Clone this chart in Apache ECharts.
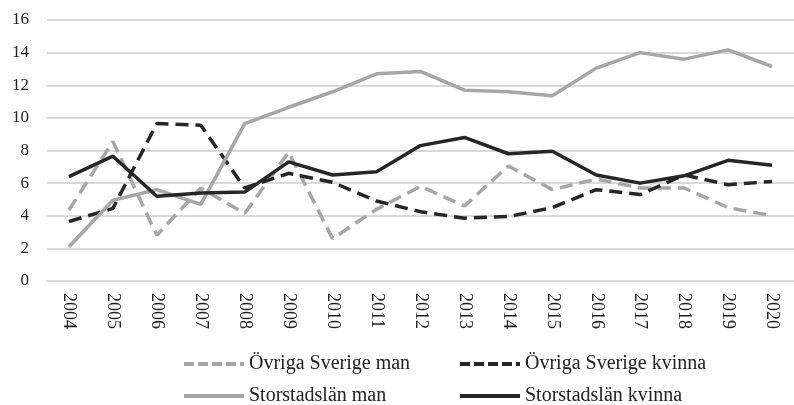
<!DOCTYPE html>
<html>
<head>
<meta charset="utf-8">
<script src="https://cdn.jsdelivr.net/npm/echarts@6/dist/echarts.min.js"></script>
<style>
  html, body { margin: 0; padding: 0; background: #fff; }
  #chart { width: 794px; height: 405px; }
</style>
</head>
<body>
<div id="chart"></div>
<script>
// years on the x axis
const years = ['2004','2005','2006','2007','2008','2009','2010','2011','2012',
  '2013','2014','2015','2016','2017','2018','2019','2020']

// values
const ovrigaMan = [4.35, 8.55, 2.8, 5.7, 4.15, 7.9, 2.6, 4.4, 5.8, 4.6, 7.05, 5.6, 6.25, 5.7, 5.7, 4.5, 4.0]
const ovrigaKvinna = [3.65, 4.45, 9.65, 9.55, 5.7, 6.6, 6.05, 4.9, 4.25, 3.85, 3.95, 4.5, 5.6, 5.3, 6.5, 5.9, 6.1]
const storstadMan = [2.1, 4.95, 5.6, 4.7, 9.65, 10.65, 11.6, 12.7, 12.85, 11.7, 11.6, 11.35, 13.05, 14.0, 13.6, 14.17, 13.15]
const storstadKvinna = [6.4, 7.65, 5.2, 5.4, 5.45, 7.3, 6.5, 6.7, 8.3, 8.8, 7.8, 7.95, 6.5, 6.0, 6.45, 7.4, 7.1]

const grey = '#a6a6a6'
const dark = '#262626'
const font = '"Liberation Serif", "DejaVu Serif", serif'

const myChart = echarts.init(document.getElementById('chart'))

function line (name, data, color, dashed) {
  return {
    name: name,
    type: 'line',
    data: data,
    symbol: 'none',
    smooth: false,
    lineStyle: { color: color, width: 3.5, type: dashed ? [13, 7] : 'solid' },
    itemStyle: { color: color, opacity: 0 }
  }
}

// one legend box per entry so they sit in two columns like the original
function legendAt (name, color, dashed, left, top) {
  return {
    left: left,
    top: top,
    padding: 0,
    itemWidth: 60,
    itemHeight: 14,
    itemStyle: { opacity: 0 },
    textStyle: { fontFamily: font, fontSize: 20, color: '#222' },
    data: [{
      name: name,
      lineStyle: { color: color, width: 4, type: dashed ? [10, 4] : 'solid' }
    }]
  }
}

myChart.setOption({
  backgroundColor: '#ffffff',
  animation: false,
  textStyle: { fontFamily: font },
  grid: { left: 47, right: -3, top: 20, bottom: 124 },
  legend: [
    legendAt('Övriga Sverige man', grey, true, 182, 354),
    legendAt('Övriga Sverige kvinna', dark, true, 458, 354),
    legendAt('Storstadslän man', grey, false, 182, 386),
    legendAt('Storstadslän kvinna', dark, false, 458, 386)
  ],
  xAxis: {
    type: 'category',
    data: years,
    boundaryGap: true,
    axisTick: { show: false },
    axisLine: { lineStyle: { color: '#d9d9d9', width: 2 } },
    axisLabel: {
      rotate: -90,
      margin: 12,
      fontFamily: font,
      fontSize: 18,
      color: '#222',
      interval: 0
    }
  },
  yAxis: {
    type: 'value',
    min: 0,
    max: 16,
    interval: 2,
    axisLine: { show: false },
    axisTick: { show: false },
    axisLabel: { margin: 18, fontFamily: font, fontSize: 17, color: '#222' },
    splitLine: { lineStyle: { color: '#d9d9d9', width: 2 } }
  },
  series: [
    line('Övriga Sverige man', ovrigaMan, grey, true),
    line('Övriga Sverige kvinna', ovrigaKvinna, dark, true),
    line('Storstadslän man', storstadMan, grey, false),
    line('Storstadslän kvinna', storstadKvinna, dark, false)
  ]
})
</script>
</body>
</html>
